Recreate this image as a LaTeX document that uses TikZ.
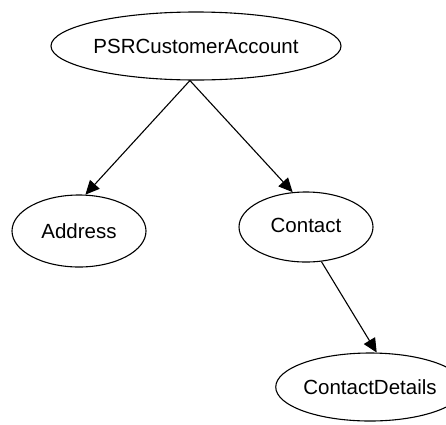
\documentclass[tikz,border=0pt]{standalone}
\usepackage{fontspec}
\setmainfont{Liberation Sans}
\usetikzlibrary{arrows.meta,shapes.geometric}
\begin{document}
\begin{tikzpicture}[x=1pt,y=-1pt,
  ent/.style={draw, ellipse, line width=1.1pt, inner sep=0pt, font=\fontsize{20.5}{24}\selectfont},
  link/.style={line width=1.1pt, -{Triangle[length=14pt,width=13pt]}}]
\useasboundingbox (0,0) rectangle (446,424);
\node[ent, minimum width=250pt, minimum height=68pt] (psr) at (196,46) {PSRCustomerAccount};
\node[ent, minimum width=134pt, minimum height=72pt] (addr) at (79,231) {Address};
\node[ent, minimum width=134pt, minimum height=70pt] (contact) at (306,227) {\raisebox{2.5pt}{Contact}};
\node[ent, minimum width=145pt, minimum height=68pt] (details) at (370,387) {\raisebox{-2pt}{ContactDetails}};
\draw[link] (psr.-100) -- (addr.80);
\draw[link] (psr.-100) -- (contact.111);
\draw[link] (contact.-66) -- (details.79);
\end{tikzpicture}
\end{document}
